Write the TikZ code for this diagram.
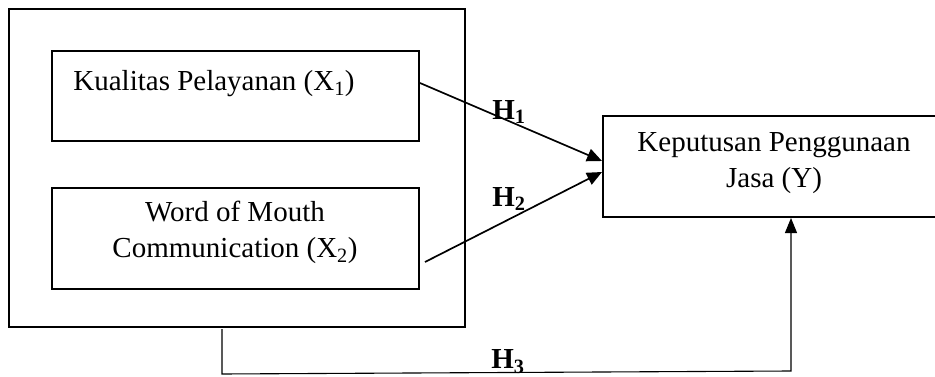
\documentclass[tikz,border=0pt]{standalone}
\usepackage{fontspec}
\setmainfont{Liberation Serif}
\usetikzlibrary{arrows.meta}
\begin{document}
\begin{tikzpicture}[x=1pt,y=-1pt,
  box/.style={draw, line width=1.6pt, inner sep=0pt},
  txt/.style={font=\fontsize{29}{36}\selectfont, inner sep=0pt, align=center},
  hyp/.style={font=\fontsize{29}{36}\selectfont\bfseries, inner sep=0pt},
  link/.style={line width=1.7pt, -{Triangle[length=15pt,width=13pt]}},
  thin link/.style={line width=1.1pt, -{Triangle[length=15pt,width=12pt]}}]
\useasboundingbox (0,0) rectangle (935,377);
\clip (0,0) rectangle (935,377);

% independent variables grouped in an outer frame
\node[box, minimum width=456pt, minimum height=318pt] (outer) at (237,168) {};
\node[box, minimum width=367pt, minimum height=90pt] (X1) at (235.5,96) {};
\node[txt] (X1t) at (214,84) {Kualitas Pelayanan (X\textsubscript{1})};
\node[box, minimum width=367pt, minimum height=101pt] (X2) at (235.5,238.5) {};
\node[txt] (X2t) at (235,232.5) {Word of Mouth\\Communication (X\textsubscript{2})};

% dependent variable
\node[box, minimum width=337pt, minimum height=101pt] (Y) at (771.5,166.5) {};
\node[txt] (Yt) at (774,163.5) {Keputusan Penggunaan\\Jasa (Y)};

% connector end points
\coordinate (h1s) at (420,83);
\coordinate (h1e) at (602,161);
\coordinate (h2s) at (425,262);
\coordinate (h2e) at (602,172);
\coordinate (h3s) at (222,329);
\coordinate (h3a) at (222,374);
\coordinate (h3b) at (791,371);
\coordinate (h3e) at (791,218);

\draw[link] (h1s) -- (h1e);
\draw[link] (h2s) -- (h2e);
\draw[thin link] (h3s) -- (h3a) -- (h3b) -- (h3e);

% hypothesis labels
\node[hyp] (H1) at (509,112) {H\textsubscript{1}};
\node[hyp] (H2) at (509,199) {H\textsubscript{2}};
\node[hyp] (H3) at (508,362) {H\textsubscript{3}};
\end{tikzpicture}
\end{document}
